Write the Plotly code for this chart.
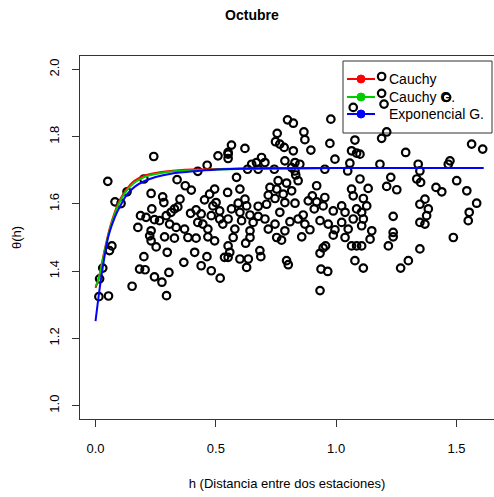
import plotly.graph_objects as go

# Scatter data: h (distance between stations), theta(h)
h_pts = [
    0.242, 0.051, 0.201, 0.131, 0.081, 0.106, 0.339, 0.373, 0.398, 0.425, 0.464, 0.509, 0.231, 0.279, 0.284,
    0.351, 0.342, 0.234, 0.187, 0.210, 0.245, 0.266, 0.294, 0.314, 0.328, 0.395, 0.418, 0.176, 0.231, 0.308,
    0.335, 0.370, 0.446, 0.453, 0.474, 0.495, 0.488, 0.501, 0.516, 0.481, 0.439, 0.516, 0.529, 0.467, 0.425,
    0.068, 0.058, 0.030, 0.017, 0.014, 0.054, 0.152, 0.183, 0.206, 0.201, 0.245, 0.276, 0.305, 0.298, 0.295,
    0.231, 0.252, 0.225, 0.287, 0.328, 0.367, 0.412, 0.439, 0.463, 0.481, 0.518, 0.384, 0.418, 0.467, 0.495,
    0.536,
    0.798, 0.822, 0.978, 0.755, 0.866, 0.870, 0.748, 0.766, 0.784, 0.822, 0.895, 0.974, 1.078, 1.064, 1.085,
    0.565, 0.621, 0.551, 0.551, 0.690, 0.704, 0.649, 0.669, 0.787, 0.829, 0.849, 0.995, 1.057, 0.632, 0.676,
    0.743, 0.815, 0.829, 0.953, 1.048, 0.832, 0.586, 0.759, 0.842, 0.794, 0.919, 0.725, 0.753, 0.600, 0.549,
    0.815, 0.718, 0.780, 1.064, 1.071, 0.901, 0.953, 0.746, 0.621, 0.593, 0.628, 0.676, 0.711, 0.787, 0.829,
    0.884, 0.919, 0.946, 1.023, 0.565, 0.600, 0.642, 0.676, 0.766, 0.863, 0.909, 0.988, 1.037, 1.085, 0.551,
    0.607, 0.655, 0.704, 0.746, 0.808, 0.842, 0.870, 0.933, 0.967, 1.023, 1.071, 0.579, 0.642, 0.718, 0.787,
    0.891, 0.995, 1.050,
    0.572, 0.551, 0.558, 0.551, 0.600, 0.635, 0.628, 0.624, 0.642, 0.683, 0.687, 0.753, 0.773, 0.794, 0.801,
    0.857, 0.933, 0.946, 0.956, 0.937, 0.965, 0.933, 1.037, 1.064, 1.085, 1.078, 0.988,
    1.210, 1.189, 1.563, 1.609, 1.289, 1.182, 1.341, 1.473, 1.466, 1.348, 1.227, 1.335, 1.351, 1.501, 1.210,
    1.252, 1.415, 1.439, 1.543, 1.133, 1.099, 1.369, 1.348, 1.383, 1.584, 1.553, 1.549, 1.237, 1.376, 1.348,
    1.369, 1.113, 1.127, 1.106, 1.113, 1.106, 1.148, 1.237, 1.099,
    1.141, 1.106, 1.237, 1.217, 1.348, 1.300, 1.268, 1.113, 1.487,
    1.189, 1.189, 1.459, 1.199, 1.071, 0.551,
]
theta_pts = [
    1.741, 1.667, 1.674, 1.636, 1.606, 1.601, 1.672, 1.654, 1.641, 1.697, 1.715, 1.743, 1.631, 1.621, 1.604,
    1.614, 1.591, 1.585, 1.565, 1.560, 1.553, 1.550, 1.565, 1.575, 1.585, 1.572, 1.582, 1.530, 1.520, 1.540,
    1.530, 1.525, 1.540, 1.612, 1.629, 1.644, 1.594, 1.604, 1.579, 1.565, 1.570, 1.555, 1.540, 1.525, 1.545,
    1.475, 1.461, 1.409, 1.377, 1.324, 1.326, 1.355, 1.406, 1.404, 1.443, 1.383, 1.367, 1.396, 1.456, 1.327,
    1.490, 1.472, 1.505, 1.502, 1.498, 1.426, 1.456, 1.416, 1.443, 1.401, 1.379, 1.500, 1.498, 1.502, 1.490,
    1.441,
    1.850, 1.840, 1.852, 1.810, 1.814, 1.791, 1.785, 1.778, 1.768, 1.758, 1.760, 1.780, 1.790, 1.758, 1.751,
    1.775, 1.765, 1.753, 1.735, 1.738, 1.723, 1.718, 1.723, 1.728, 1.723, 1.718, 1.733, 1.721, 1.703, 1.703,
    1.703, 1.708, 1.698, 1.703, 1.698, 1.686, 1.679, 1.669, 1.669, 1.662, 1.654, 1.649, 1.644, 1.644, 1.634,
    1.639, 1.626, 1.629, 1.644, 1.624, 1.624, 1.619, 1.616, 1.614, 1.602, 1.594, 1.593, 1.599, 1.604, 1.602,
    1.609, 1.606, 1.594, 1.594, 1.585, 1.575, 1.567, 1.563, 1.575, 1.567, 1.585, 1.579, 1.575, 1.585, 1.555,
    1.550, 1.545, 1.555, 1.540, 1.547, 1.555, 1.540, 1.550, 1.540, 1.545, 1.555, 1.525, 1.520, 1.525, 1.520,
    1.523, 1.523, 1.525,
    1.500, 1.475, 1.456, 1.441, 1.436, 1.436, 1.411, 1.483, 1.500, 1.461, 1.443, 1.500, 1.492, 1.431, 1.419,
    1.502, 1.453, 1.469, 1.475, 1.406, 1.399, 1.342, 1.500, 1.475, 1.475, 1.431, 1.507,
    1.814, 1.795, 1.778, 1.763, 1.753, 1.718, 1.718, 1.728, 1.718, 1.698, 1.679, 1.674, 1.664, 1.669, 1.652,
    1.642, 1.649, 1.636, 1.639, 1.646, 1.674, 1.614, 1.599, 1.585, 1.602, 1.575, 1.550, 1.563, 1.565, 1.545,
    1.540, 1.616, 1.594, 1.575, 1.555, 1.535, 1.520, 1.515, 1.748,
    1.495, 1.475, 1.502, 1.475, 1.466, 1.431, 1.409, 1.409, 1.500,
    1.979, 1.929, 1.917, 1.897, 1.887, 1.748,
]

# Fitted model curves
h_cauchy = [0, 0.01, 0.02, 0.04, 0.06, 0.08, 0.10, 0.13, 0.16, 0.20, 0.25, 0.30, 0.40, 0.60, 1.0, 1.612]
y_cauchy = [1.35, 1.37, 1.40, 1.47, 1.53, 1.575, 1.61, 1.645, 1.668, 1.683, 1.692, 1.697, 1.702, 1.705, 1.707, 1.707]
h_cauchy_g = [0, 0.01, 0.02, 0.04, 0.06, 0.08, 0.10, 0.13, 0.16, 0.20, 0.25, 0.30, 0.40, 0.60, 1.0, 1.612]
y_cauchy_g = [1.355, 1.37, 1.40, 1.465, 1.525, 1.57, 1.605, 1.64, 1.662, 1.679, 1.689, 1.695, 1.700, 1.704, 1.707, 1.707]
h_expo = [0, 0.017, 0.03, 0.044, 0.054, 0.08, 0.106, 0.131, 0.165, 0.204, 0.25, 0.314, 0.425, 0.529, 0.75, 1.0, 1.3, 1.612]
y_expo = [1.251, 1.347, 1.411, 1.47, 1.505, 1.56, 1.598, 1.628, 1.652, 1.668, 1.68, 1.690, 1.698, 1.703, 1.706, 1.707, 1.707, 1.707]

series_names = ["Cauchy", "Cauchy G.", "Exponencial G."]
series_colors = ["#ff0000", "#00cd00", "#0000ff"]

x_ticks = [0.0, 0.5, 1.0, 1.5]
x_ticklabels = ["0.0", "0.5", "1.0", "1.5"]
y_ticks = [1.0, 1.2, 1.4, 1.6, 1.8, 2.0]
y_ticklabels = ["1.0", "1.2", "1.4", "1.6", "1.8", "2.0"]

FONT = "Liberation Sans, Arial, sans-serif"

fig = go.Figure()
fig.add_trace(go.Scatter(
    x=h_pts, y=theta_pts, mode="markers", showlegend=False,
    marker=dict(symbol="circle-open", size=7.5, color="black", line=dict(width=2.2, color="black")),
))
for hx, yy, nm, col in [(h_cauchy, y_cauchy, series_names[0], series_colors[0]),
                        (h_cauchy_g, y_cauchy_g, series_names[1], series_colors[1]),
                        (h_expo, y_expo, series_names[2], series_colors[2])]:
    fig.add_trace(go.Scatter(
        x=hx, y=yy, mode="lines", name=nm, showlegend=False,
        line=dict(color=col, width=2, shape="spline"),
    ))

# R-style legend box (drawn beneath the points, like base graphics)
W, H = 494, 497
ML, MR, MT, MB = 80, 0, 56, 78
PW, PH = W - ML - MR, H - MT - MB
def px(xp):
    return (xp - ML) / PW
def py(yp):
    return (H - MB - yp) / PH

shapes = [dict(type="rect", xref="paper", yref="paper", x0=px(343), x1=px(492), y0=py(133), y1=py(61),
               line=dict(color="#333333", width=1), fillcolor="white", layer="below")]
annotations = []
row_y = [79, 97, 114]
for nm, col, ry in zip(series_names, series_colors, row_y):
    shapes.append(dict(type="line", xref="paper", yref="paper", x0=px(347), x1=px(375), y0=py(ry), y1=py(ry),
                       line=dict(color=col, width=2), layer="below"))
    shapes.append(dict(type="circle", xref="paper", yref="paper", xsizemode="pixel", ysizemode="pixel",
                       xanchor=px(361), yanchor=py(ry), x0=-4, x1=4, y0=-4, y1=4,
                       line=dict(color=col, width=1), fillcolor=col, layer="below"))
    annotations.append(dict(text=nm, xref="paper", yref="paper", x=px(387), y=py(ry), xanchor="left",
                            yanchor="middle", showarrow=False, font=dict(size=14, family=FONT, color="black")))

fig.update_layout(
    width=W, height=H,
    margin=dict(l=ML, r=MR, t=MT, b=MB),
    paper_bgcolor="white", plot_bgcolor="white",
    font=dict(family=FONT, size=13, color="black"),
    title=dict(text="<b>Octubre</b>", x=0.51, xanchor="center", y=1 - 15 / H, yanchor="middle",
               font=dict(size=14, family=FONT, color="black")),
    showlegend=False,
    shapes=shapes,
    annotations=annotations,
)
fig.update_xaxes(
    range=[-0.0645, 1.656], tickvals=x_ticks, ticktext=x_ticklabels, automargin=False,
    showgrid=False, zeroline=False, showline=True, mirror=True, linecolor="#333333", linewidth=1,
    ticks="outside", ticklen=7, tickcolor="#333333", ticklabelstandoff=10,
    title=dict(text="h (Distancia entre dos estaciones)", standoff=24, font=dict(size=13, color="black")),
)
fig.update_yaxes(
    range=[0.96, 2.04], tickvals=y_ticks, ticktext=y_ticklabels, tickangle=-90, automargin=False,
    showgrid=False, zeroline=False, showline=True, mirror=False, linecolor="#333333", linewidth=1,
    ticks="outside", ticklen=7, tickcolor="#333333", ticklabelstandoff=8,
    title=dict(text="θ(h)", standoff=22, font=dict(size=13, color="black")),
)

fig.write_html("out.html", config={"displayModeBar": False},
               post_script="document.body.style.margin='0px';")
